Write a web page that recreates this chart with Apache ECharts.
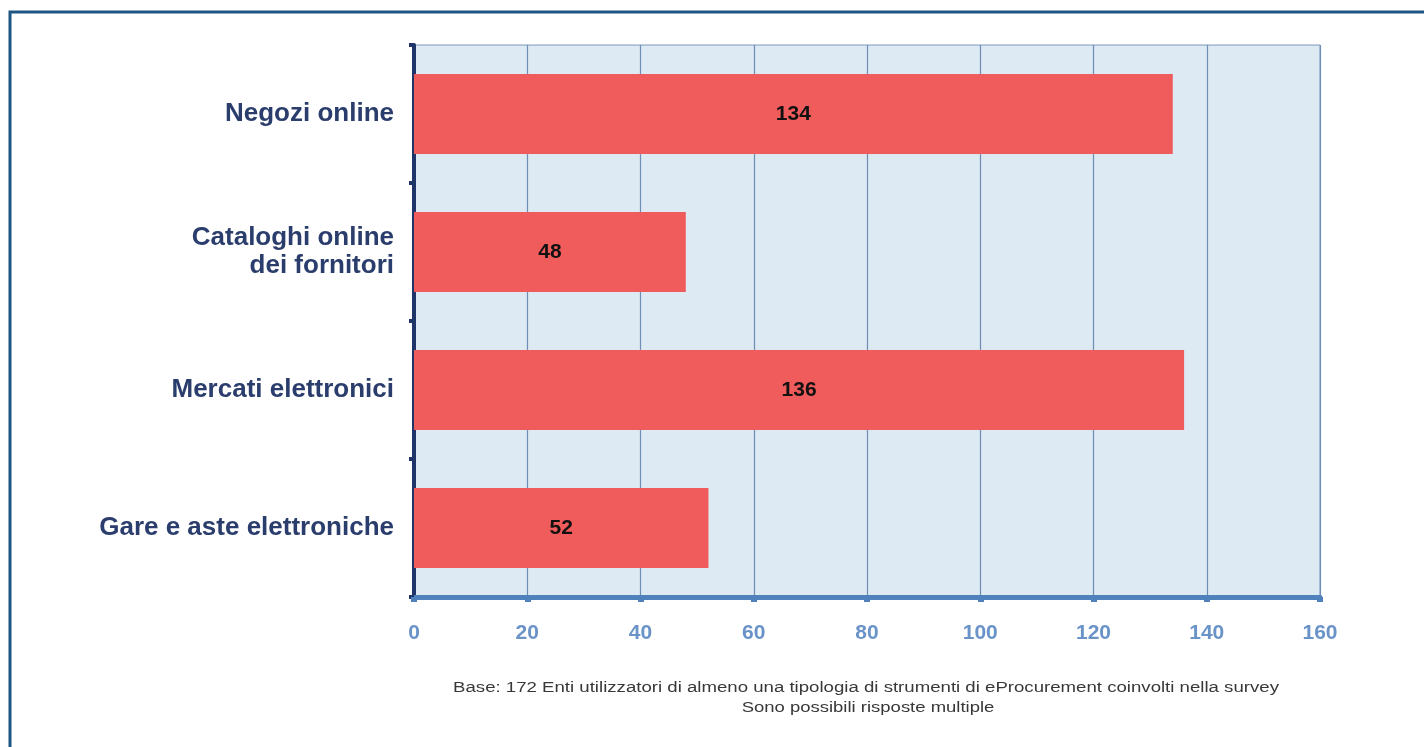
<!DOCTYPE html>
<html><head><meta charset="utf-8">
<script src="https://cdn.jsdelivr.net/npm/echarts@6/dist/echarts.min.js"></script>
<style>html,body{margin:0;padding:0;background:#fff}#c{width:1424px;height:747px}</style>
</head><body><div id="c"></div>
<script>
const categories = ['Negozi online', 'Cataloghi online\ndei fornitori', 'Mercati elettronici', 'Gare e aste elettroniche'];
const values = [134, 48, 136, 52];
const footnoteLines = ['Base: 172 Enti utilizzatori di almeno una tipologia di strumenti di eProcurement coinvolti nella survey', 'Sono possibili risposte multiple'];

const chart = echarts.init(document.getElementById('c'));
chart.setOption({
  animation: false,
  backgroundColor: '#ffffff',
  grid: { left: 414, right: 104, top: 45, bottom: 150, show: true, backgroundColor: '#dde9f3', borderColor: '#7d98bd', borderWidth: 1 },
  xAxis: {
    type: 'value', min: 0, max: 160, interval: 20,
    axisLine: { show: true, onZero: false, lineStyle: { color: '#4f81bd', width: 5 } },
    axisTick: { show: true, length: 5, lineStyle: { color: '#4f81bd', width: 6 } },
    splitLine: { show: true, lineStyle: { color: '#6f8db5', width: 1.2 } },
    axisLabel: { color: '#6a93c8', fontFamily: 'Liberation Sans, Arial, sans-serif', fontWeight: 'bold', fontSize: 21, margin: 26 }
  },
  yAxis: {
    type: 'category', data: categories, inverse: true,
    axisLine: { show: true, lineStyle: { color: '#1f3468', width: 4 } },
    axisTick: { show: true, length: 5, lineStyle: { color: '#1f3468', width: 4 } },
    splitLine: { show: false },
    axisLabel: { color: '#2a3d6c', fontFamily: 'Liberation Sans, Arial, sans-serif', fontWeight: 'bold', fontSize: 26, margin: 20, lineHeight: 28, align: 'right' }
  },
  series: [{
    type: 'bar', data: values, barWidth: 80,
    itemStyle: { color: '#f05b5b' },
    label: { show: true, position: 'inside', color: '#111', fontFamily: 'Liberation Sans, Arial, sans-serif', fontWeight: 'bold', fontSize: 21 }
  }],
  graphic: [
    { type: 'rect', shape: { x: 10, y: 12, width: 1430, height: 760 }, style: { fill: 'none', stroke: '#1d5583', lineWidth: 3 }, z: 100 },
    { type: 'text', x: 866, y: 688, scaleX: 1.33, style: { text: footnoteLines[0], textAlign: 'center', textVerticalAlign: 'middle', fill: '#383838', font: '14px "Liberation Sans", Arial, sans-serif' } },
    { type: 'text', x: 868, y: 708, scaleX: 1.32, style: { text: footnoteLines[1], textAlign: 'center', textVerticalAlign: 'middle', fill: '#383838', font: '14px "Liberation Sans", Arial, sans-serif' } }
  ]
});
</script></body></html>
